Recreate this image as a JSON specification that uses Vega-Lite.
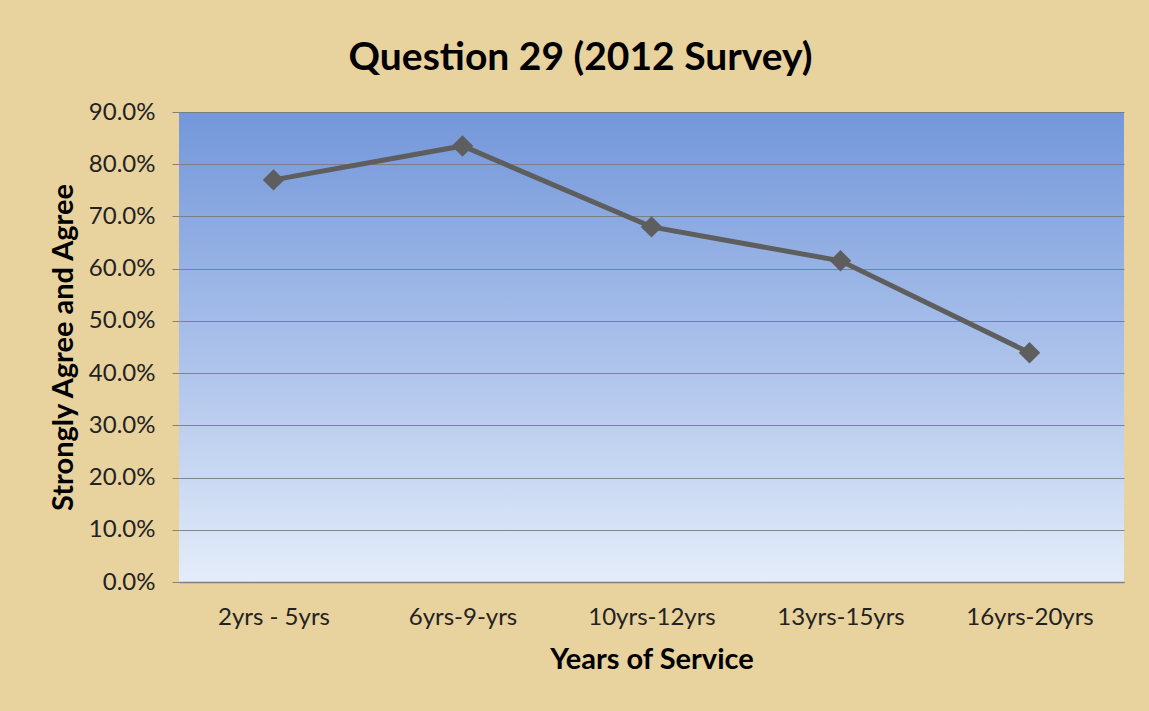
{
  "$schema": "https://vega.github.io/schema/vega-lite/v6.json",
  "autosize": {"type": "none"},
  "width": 945,
  "height": 470,
  "padding": {"left": 179, "top": 112, "right": 25, "bottom": 129},
  "background": "#E8D29E",
  "title": {
    "text": "Question 29 (2012 Survey)",
    "font": "Lato",
    "fontSize": 39,
    "fontWeight": "bold",
    "color": "#000000",
    "anchor": "middle",
    "dx": -71,
    "offset": 22
  },
  "config": {
    "view": {
      "stroke": null,
      "fill": {
        "gradient": "linear",
        "x1": 0, "y1": 0, "x2": 0, "y2": 1,
        "stops": [
          {"offset": 0, "color": "#7397DA"},
          {"offset": 0.5, "color": "#A9C0EA"},
          {"offset": 1, "color": "#E4EDF9"}
        ]
      }
    }
  },
  "data": {
    "values": [
      {"years": "2yrs - 5yrs", "pct": 0.770},
      {"years": "6yrs-9-yrs", "pct": 0.835},
      {"years": "10yrs-12yrs", "pct": 0.680},
      {"years": "13yrs-15yrs", "pct": 0.615},
      {"years": "16yrs-20yrs", "pct": 0.439}
    ]
  },
  "encoding": {
    "x": {
      "field": "years",
      "type": "nominal",
      "sort": null,
      "scale": {"type": "point", "padding": 0.5},
      "axis": {
        "title": "Years of Service",
        "titleFont": "Lato",
        "titleFontSize": 29,
        "titleFontWeight": "bold",
        "titleColor": "#000000",
        "titlePadding": 16,
        "labelFont": "Lato",
        "labelFontSize": 24,
        "labelColor": "#222222",
        "labelAngle": 0,
        "labelPadding": 23,
        "ticks": false,
        "domainColor": "#808080",
        "domainWidth": 1.5,
        "grid": false
      }
    },
    "y": {
      "field": "pct",
      "type": "quantitative",
      "scale": {"domain": [0, 0.9], "nice": false},
      "axis": {
        "title": "Strongly Agree and Agree",
        "titleFont": "Lato",
        "titleFontSize": 29,
        "titleFontWeight": "bold",
        "titleColor": "#000000",
        "titlePadding": 10,
        "format": ".1%",
        "values": [0, 0.1, 0.2, 0.3, 0.4, 0.5, 0.6, 0.7, 0.8, 0.9],
        "labelFont": "Lato",
        "labelFontSize": 24,
        "labelColor": "#222222",
        "labelPadding": 17,
        "tickSize": 7,
        "tickColor": "#808080",
        "grid": true,
        "gridColor": "#7a7a7a",
        "gridWidth": 1,
        "gridOpacity": 0.9,
        "domain": false
      }
    }
  },
  "layer": [
    {"mark": {"type": "line", "color": "#5E5E5E", "strokeWidth": 5}},
    {"mark": {"type": "point", "shape": "diamond", "filled": true, "color": "#5E5E5E", "opacity": 1, "size": 460}}
  ]
}
